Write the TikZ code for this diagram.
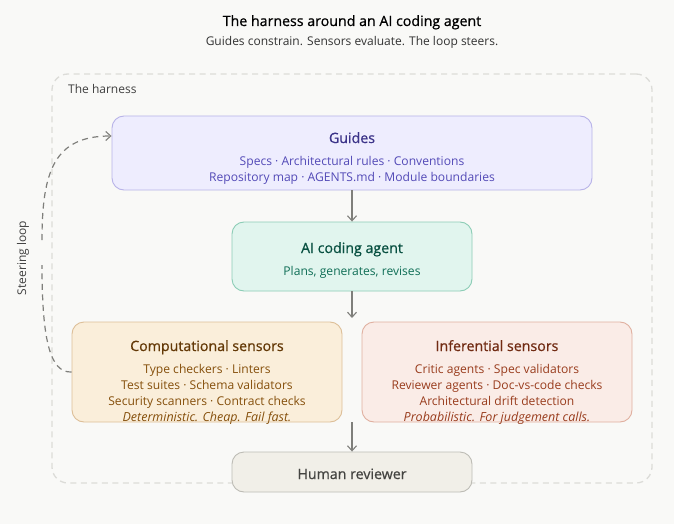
\documentclass[tikz,border=0pt]{standalone}
\usepackage{fontspec}
\setmainfont{Open Sans}
\newfontfamily\medfont[FakeBold=0.7]{Open Sans}
\usetikzlibrary{arrows.meta}
\definecolor{bgc}{HTML}{F9F9F7}
\definecolor{hline}{HTML}{DCDCD8}
\definecolor{conn}{HTML}{7F7F7B}
\definecolor{pf}{HTML}{EEEDFE}\definecolor{ps}{HTML}{B8B3E8}\definecolor{pt}{HTML}{3C3489}\definecolor{pb}{HTML}{534AB7}
\definecolor{tf}{HTML}{E1F5EE}\definecolor{ts}{HTML}{8CCDB6}\definecolor{tt}{HTML}{085041}\definecolor{tb}{HTML}{0F6E56}
\definecolor{af}{HTML}{FAEEDA}\definecolor{as}{HTML}{DDBF98}\definecolor{at}{HTML}{633806}\definecolor{ab}{HTML}{854F0B}
\definecolor{cf}{HTML}{FAECE7}\definecolor{cs}{HTML}{E0B0A0}\definecolor{ct}{HTML}{712B13}\definecolor{cb}{HTML}{993C1D}
\definecolor{gf}{HTML}{F1EFE8}\definecolor{gs}{HTML}{BDBCB5}\definecolor{gt}{HTML}{444441}
\tikzset{
  boxbase/.style={draw,line width=0.9pt,rounded corners=12pt,inner sep=0pt},
  titletext/.style={inner sep=0pt,anchor=base,font=\fontsize{14.2}{16}\medfont},
  bodytext/.style={inner sep=0pt,anchor=base,font=\fontsize{12.1}{14}\selectfont},
  noteital/.style={inner sep=0pt,anchor=base,font=\fontsize{12.5}{14}\selectfont\itshape},
  flow/.style={draw=conn,line width=1.2pt,-{Straight Barb[length=5pt,width=9pt,line width=1.1pt]}},
  loopline/.style={draw=conn,line width=1.2pt,dash pattern=on 6pt off 4.5pt},
}
\begin{document}
\begin{tikzpicture}[x=1pt,y=-1pt]
\useasboundingbox (0,0) rectangle (674,524);
\fill[bgc] (0,0) rectangle (674,524);
\node[inner sep=0pt,anchor=base,font=\fontsize{14.2}{16}\medfont] (maintitle) at (352,26) {The harness around an AI coding agent};
\node[inner sep=0pt,anchor=base,font=\fontsize{12}{14}\selectfont,text=black!80] (subtitle) at (352,46) {Guides constrain. Sensors evaluate. The loop steers.};
\node[draw=hline,line width=1.3pt,dash pattern=on 6pt off 4.5pt,rounded corners=16pt,minimum width=600pt,minimum height=409pt,inner sep=0pt] (harness) at (352,278.5) {};
\node[inner sep=0pt,anchor=base west,font=\fontsize{12}{14}\selectfont,text=black!75] (harnesslabel) at (68,94) {The harness};
\node[boxbase,draw=ps,fill=pf,minimum width=480pt,minimum height=74pt] (guides) at (352,153) {};
\node[boxbase,draw=ts,fill=tf,minimum width=240pt,minimum height=69pt] (agent) at (352,256.5) {};
\node[boxbase,draw=as,fill=af,minimum width=270pt,minimum height=100pt] (comp) at (207,372) {};
\node[boxbase,draw=cs,fill=cf,minimum width=270pt,minimum height=100pt] (inf) at (497,372) {};
\node[boxbase,draw=gs,fill=gf,minimum width=240pt,minimum height=40pt] (human) at (352,472) {};
\node[titletext,text=pt] (gt) at (352,143) {Guides};
\node[bodytext,text=pb] (g1) at (352,165) {Specs · Architectural rules · Conventions};
\node[bodytext,text=pb] (g2) at (352,181) {Repository map · AGENTS.md · Module boundaries};
\node[titletext,text=tt] (at1) at (352,253) {AI coding agent};
\node[bodytext,text=tb] (a1) at (352,275) {Plans, generates, revises};
\node[titletext,text=at] (ct1) at (207,351) {Computational sensors};
\node[bodytext,text=ab] (c1) at (207,373) {Type checkers · Linters};
\node[bodytext,text=ab] (c2) at (207,389) {Test suites · Schema validators};
\node[bodytext,text=ab] (c3) at (207,405) {Security scanners · Contract checks};
\node[noteital,text=ab] (c4) at (207,421) {Deterministic. Cheap. Fail fast.};
\node[titletext,text=ct] (it1) at (497,351) {Inferential sensors};
\node[bodytext,text=cb] (i1) at (497,373) {Critic agents · Spec validators};
\node[bodytext,text=cb] (i2) at (497,389) {Reviewer agents · Doc-vs-code checks};
\node[bodytext,text=cb] (i3) at (497,405) {Architectural drift detection};
\node[noteital,text=cb] (i4) at (497,421) {Probabilistic. For judgement calls.};
\node[titletext,text=gt] (ht) at (352,479) {Human reviewer};
\node[inner sep=0pt,rotate=90,anchor=base,font=\fontsize{12}{14}\selectfont,text=black!75] (steerlabel) at (26,258) {Steering loop};
\coordinate (sensortop) at (352,318);
\coordinate (sensorbottom) at (352,422);
\coordinate (gapbottom) at (42,265);
\coordinate (gaptop) at (42,240);
\draw[flow] (guides) -- (agent);
\draw[flow] (agent) -- (sensortop);
\draw[flow] (sensorbottom) -- (human);
\draw[loopline] (comp.west) .. controls (50,373) and (42,340) .. (gapbottom);
\draw[loopline,-{Straight Barb[length=5pt,width=9pt,line width=1.1pt]}] (gaptop) .. controls (42,170) and (55,136) .. (guides.west |- 0,136);
\end{tikzpicture}
\end{document}
